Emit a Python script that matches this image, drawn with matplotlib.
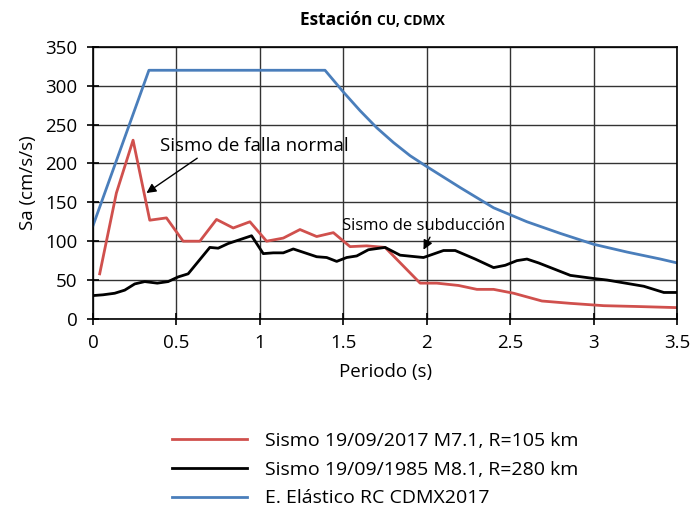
import matplotlib
matplotlib.use("Agg")
import matplotlib.pyplot as plt

plt.rcParams["font.family"] = ["Open Sans", "DejaVu Sans"]

# Sismo 19/09/2017 M7.1 (falla normal)
t_2017 = [0.04, 0.14, 0.24, 0.34, 0.44, 0.54, 0.64, 0.74, 0.84, 0.94, 1.04, 1.14,
          1.24, 1.34, 1.44, 1.54, 1.64, 1.75, 1.96, 2.06, 2.19, 2.30, 2.40, 2.52,
          2.69, 2.86, 3.06, 3.25, 3.5]
sa_2017 = [58, 162, 230, 127, 130, 100, 100, 128, 117, 125, 100, 104,
           115, 106, 111, 93, 94, 92, 46, 46, 43, 38, 38, 33,
           23, 20, 17, 16, 14.5]

# Sismo 19/09/1985 M8.1 (subduccion)
t_1985 = [0.0, 0.06, 0.13, 0.19, 0.25, 0.31, 0.385, 0.45, 0.51, 0.57, 0.70, 0.75,
          0.81, 0.88, 0.95, 1.02, 1.08, 1.14, 1.20, 1.27, 1.34, 1.40, 1.46, 1.52,
          1.58, 1.65, 1.75, 1.84, 1.98, 2.10, 2.17, 2.29, 2.40, 2.47, 2.54, 2.60,
          2.67, 2.86, 3.00, 3.08, 3.30, 3.42, 3.5]
sa_1985 = [30, 31, 33, 37, 45, 48, 46, 48, 54, 58, 92, 91,
           97, 102, 107, 84, 85, 85, 90, 85, 80, 79, 74, 79,
           81, 89, 92, 82, 79, 88, 88, 77, 66, 69, 75, 77,
           72, 56, 52, 50, 42, 34, 34]

# Espectro elastico RC CDMX2017
t_rc = [0.0, 0.335, 1.39, 1.5, 1.6, 1.7, 1.8, 1.9, 2.0, 2.2, 2.4, 2.5, 2.6,
        2.8, 3.0, 3.2, 3.4, 3.5]
sa_rc = [120, 320, 320, 292, 268, 246, 227, 210, 196, 169, 143, 134, 125,
         110, 96, 86, 77, 72]

fig = plt.figure(figsize=(6.91, 5.16), dpi=100)
ax = fig.add_axes([0.1346, 0.382, 0.8454, 0.527])

l1, = ax.plot(t_2017, sa_2017, color="#d0504d", lw=2, label="Sismo 19/09/2017 M7.1, R=105 km")
l2, = ax.plot(t_1985, sa_1985, color="black", lw=2, label="Sismo 19/09/1985 M8.1, R=280 km")
l3, = ax.plot(t_rc, sa_rc, color="#4a7ebb", lw=2, label="E. Elástico RC CDMX2017")

ax.set_xlim(0, 3.5)
ax.set_ylim(0, 350)
ax.set_xticks([0, 0.5, 1, 1.5, 2, 2.5, 3, 3.5])
ax.set_xticklabels(["0", "0.5", "1", "1.5", "2", "2.5", "3", "3.5"])
ax.set_yticks(range(0, 351, 50))
ax.grid(True, color="#333333", lw=1)
ax.set_axisbelow(True)
for s in ax.spines.values():
    s.set_color("black")
    s.set_linewidth(1.2)
ax.tick_params(direction="inout", length=8, width=1.2, labelsize=13.5, pad=7)
ax.set_xlabel("Periodo (s)", fontsize=13.5, labelpad=8)
ax.set_ylabel("Sa (cm/s/s)", fontsize=13.5, labelpad=6)

ax.annotate("Sismo de falla normal", xy=(0.32, 162), xytext=(0.40, 222),
            fontsize=13.5, va="center",
            arrowprops=dict(arrowstyle="-|>", color="black", lw=1,
                            shrinkA=0, shrinkB=0, mutation_scale=14,
                            relpos=(0.22, 0)))
ax.annotate("Sismo de subducción", xy=(1.98, 89), xytext=(1.49, 119),
            fontsize=12, va="center",
            arrowprops=dict(arrowstyle="-|>", color="black", lw=1,
                            shrinkA=0, shrinkB=0, mutation_scale=14,
                            relpos=(0.55, 0)))

# titulo con versalitas: "Estación" + "CU, CDMX" mas pequeno, misma linea base
t1 = fig.text(0.434, 0.952, "Estación ", fontsize=12.5, fontweight="bold", va="baseline")
fig.canvas.draw()
bb = t1.get_window_extent().transformed(fig.transFigure.inverted())
fig.text(bb.x1, 0.952, "CU, CDMX", fontsize=10, fontweight="bold", va="baseline")

fig.legend(handles=[l1, l2, l3], loc="upper left", bbox_to_anchor=(0.237, 0.178),
           frameon=False, fontsize=14, handlelength=3.9, handletextpad=0.9,
           labelspacing=0.55, borderaxespad=0)

fig.savefig("out.png", dpi=100)
